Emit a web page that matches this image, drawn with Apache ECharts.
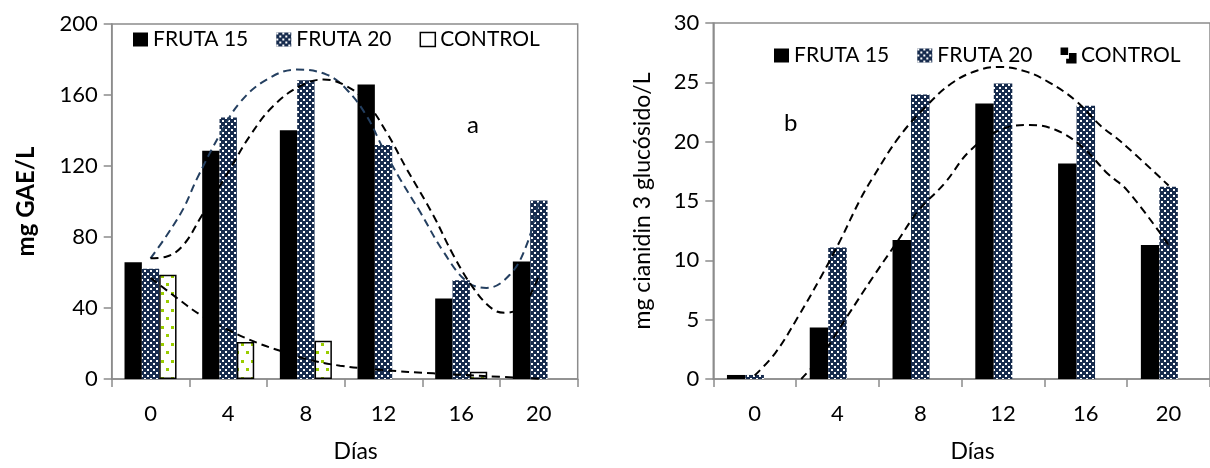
<!DOCTYPE html>
<html>
<head>
<meta charset="utf-8">
<script src="https://cdn.jsdelivr.net/npm/echarts@6.0.0/dist/echarts.min.js"></script>
<style>
  html, body { margin: 0; padding: 0; background: #fff; }
  #chart { width: 1210px; height: 468px; }
</style>
</head>
<body>
<div id="chart"></div>
<script>
// days (categories)
const days = ['0', '4', '8', '12', '16', '20'];

// panel a: mg GAE/L
const fruta15A = [65.8, 128.6, 140.2, 165.9, 45.3, 66.2];
const fruta20A = [62.1, 147.3, 168.3, 131.8, 55.6, 100.6];
const controlA = [58.7, 20.9, 21.5, null, 4.1, null];

// panel b: mg cianidin 3 glucosido/L
const fruta15B = [0.34, 4.35, 11.71, 23.22, 18.17, 11.29];
const fruta20B = [0.34, 11.09, 23.98, 24.91, 23.03, 16.2];
const controlB = [null, null, null, null, null, null];

// trend lines, [day, value]
const trendA15 = [[0, 68], [0.84, 69], [1.69, 75.5], [2.55, 90.4], [4.1, 118.4], [5.12, 137], [6.32, 153.8],
  [7.7, 165], [8.9, 168.7], [10.1, 165], [11.13, 155.7], [12.16, 138.9], [13.19, 118.4], [14.56, 92.3],
  [15.59, 69.9], [16.62, 51.3], [17.65, 39.1], [18.34, 37.3], [19.2, 41.9], [19.89, 55], [20, 59]];
const trendA20 = [[0, 68], [0.84, 81], [1.69, 96], [2.4, 113], [3.58, 137.9], [4.6, 155.7], [5.98, 168.7],
  [7.53, 174.3], [9.07, 171.5], [10.1, 163.1], [11.13, 148.2], [11.99, 129.6], [12.85, 112.7], [13.88, 94.2],
  [15.08, 71.8], [16.28, 55], [17.3, 51.3], [18.5, 58.7], [19.37, 75.5], [20, 100]];
const trendACtl = [[0, 57], [1.35, 45.7], [2.55, 36.3], [4.1, 27.1], [5.47, 20.5], [6.67, 15.9], [8.04, 11.2],
  [9.76, 7.5], [12, 5], [14.56, 3.2], [17.14, 1.7], [20, 0.2]];
const trendB20 = [[0, 0.3], [1, 2.2], [2.1, 5.25], [3.2, 8.6], [4.14, 11.7], [5.09, 15.1], [5.72, 17], [6.98, 20.4],
  [8.24, 22.9], [9.5, 24.9], [10.76, 26], [11.86, 26.3], [13.12, 25.9], [14.22, 25], [15.48, 23.5],
  [16.74, 21.3], [17.7, 20.0], [20, 16.3]];
const trendB15 = [[2.25, 0], [3.2, 1.9], [4.46, 5.25], [5.72, 8.6], [6.82, 11.4], [7.92, 14.2], [9.18, 16.5],
  [10.44, 19.3], [12.02, 21.1], [13.28, 21.4], [14.53, 21.0], [15.8, 19.6], [17.06, 17.3], [18, 15.9], [20, 11.3]];

const NAVY = '#172c4e';
const GRAY = '#8c8c8c';
const FONT = 'Lato';

// fill patterns
function checker() {
  const c = document.createElement('canvas');
  c.width = 6; c.height = 6;
  const g = c.getContext('2d');
  g.fillStyle = NAVY;
  g.fillRect(0, 0, 6, 6);
  g.fillStyle = '#ffffff';
  g.fillRect(0, 0, 2, 2);
  g.fillRect(3, 3, 2, 2);
  return c;
}
function dots() {
  const c = document.createElement('canvas');
  c.width = 10; c.height = 17;
  const g = c.getContext('2d');
  g.fillStyle = '#ffffff';
  g.fillRect(0, 0, 10, 17);
  g.fillStyle = '#9acd00';
  g.fillRect(1, 3, 3, 3);
  g.fillRect(6, 11, 3, 3);
  return c;
}
const checkFill = { image: checker(), repeat: 'repeat' };
const dotFill = { image: dots(), repeat: 'repeat' };

const chart = echarts.init(document.getElementById('chart'), null, { renderer: 'canvas' });

function catAxis(grid) {
  return {
    type: 'category', gridIndex: grid, data: days,
    axisLine: { onZero: false, lineStyle: { color: GRAY, width: 1.5 } },
    axisTick: { show: true, length: 8, lineStyle: { color: GRAY, width: 1.5 } },
    axisLabel: { color: '#000', fontFamily: FONT, fontSize: 22, margin: 24 },
    name: 'Días', nameLocation: 'middle', nameGap: 61,
    nameTextStyle: { color: '#000', fontFamily: FONT, fontSize: 23, padding: [0, 0, 0, 22] }
  };
}
function dayAxis(grid) {
  return { type: 'value', gridIndex: grid, min: -2, max: 22, show: false };
}
function valAxis(grid, max, step, name, bold, size, gap) {
  return {
    type: 'value', gridIndex: grid, min: 0, max: max, interval: step,
    splitLine: { show: false },
    axisLine: { show: true, onZero: false, lineStyle: { color: GRAY, width: 1.5 } },
    axisTick: { show: true, length: 8, lineStyle: { color: GRAY, width: 1.5 } },
    axisLabel: { color: '#000', fontFamily: FONT, fontSize: 22, margin: 14 },
    name: name, nameLocation: 'middle', nameGap: gap,
    nameTextStyle: { color: '#000', fontFamily: FONT, fontSize: size, fontWeight: bold ? 'bold' : 'normal' }
  };
}
function trend(xi, yi, data, color) {
  return {
    type: 'line', xAxisIndex: xi, yAxisIndex: yi, data: data, smooth: 0.4,
    showSymbol: false, silent: true, z: 5,
    lineStyle: { color: color, width: 2, type: [8, 5] }
  };
}
function bars(xi, yi, name, data, style) {
  return {
    type: 'bar', name: name, xAxisIndex: xi, yAxisIndex: yi, data: data,
    barGap: '0%', barCategoryGap: '33%', itemStyle: style
  };
}

const legendText = { color: '#000', fontFamily: FONT, fontSize: 21 };

const option = {
  animation: false,
  backgroundColor: '#fff',
  grid: [
    { left: 111.7, top: 24, width: 466, height: 357.7, show: true, borderColor: GRAY, borderWidth: 1.5 },
    { left: 713.3, top: 23, width: 508, height: 356, show: true, borderColor: GRAY, borderWidth: 1.5 }
  ],
  legend: [
    {
      left: 128, top: 24, itemWidth: 15, itemHeight: 14, itemGap: 28, textStyle: legendText,
      data: [
        { name: 'FRUTA 15', icon: 'rect', itemStyle: { color: '#000' } },
        { name: 'FRUTA 20', icon: 'rect', itemStyle: { color: checkFill } },
        { name: 'CONTROL', icon: 'rect', itemStyle: { color: '#fff', borderColor: '#000', borderWidth: 1.5 } }
      ]
    },
    {
      left: 769, top: 40, itemWidth: 15, itemHeight: 14, itemGap: 28, textStyle: legendText,
      data: [
        { name: 'FRUTA 15', icon: 'rect', itemStyle: { color: '#000' } },
        { name: 'FRUTA 20', icon: 'rect', itemStyle: { color: checkFill } },
        { name: 'CONTROL', icon: 'path://M0,0 L4,0 L4,4 L0,4 Z M6,4 L10,4 L10,10 L4,10 L4,8 L6,8 Z',
          itemStyle: { color: '#000' } }
      ]
    }
  ],
  xAxis: [catAxis(0), dayAxis(0), catAxis(1), dayAxis(1)],
  yAxis: [
    valAxis(0, 200, 40, 'mg GAE/L', true, 24, 73),
    valAxis(1, 30, 5, 'mg cianidin 3 glucósido/L', false, 23, 59)
  ],
  graphic: [
    { type: 'text', left: 467, top: 113, style: { text: 'a', font: '24px Lato', fill: '#000' } },
    { type: 'text', left: 784, top: 111, style: { text: 'b', font: '24px Lato', fill: '#000' } }
  ],
  series: [
    bars(0, 0, 'FRUTA 15', fruta15A, { color: '#000' }),
    bars(0, 0, 'FRUTA 20', fruta20A, { color: checkFill }),
    bars(0, 0, 'CONTROL', controlA, { color: dotFill, borderColor: '#000', borderWidth: 1.5 }),
    trend(1, 0, trendA20, '#243f60'),
    trend(1, 0, trendA15, '#000'),
    trend(1, 0, trendACtl, '#000'),
    bars(2, 1, 'FRUTA 15', fruta15B, { color: '#000' }),
    bars(2, 1, 'FRUTA 20', fruta20B, { color: checkFill }),
    bars(2, 1, 'CONTROL', controlB, { color: '#000' }),
    trend(3, 1, trendB20, '#000'),
    trend(3, 1, trendB15, '#000')
  ]
};
chart.setOption(option);
</script>
</body>
</html>
